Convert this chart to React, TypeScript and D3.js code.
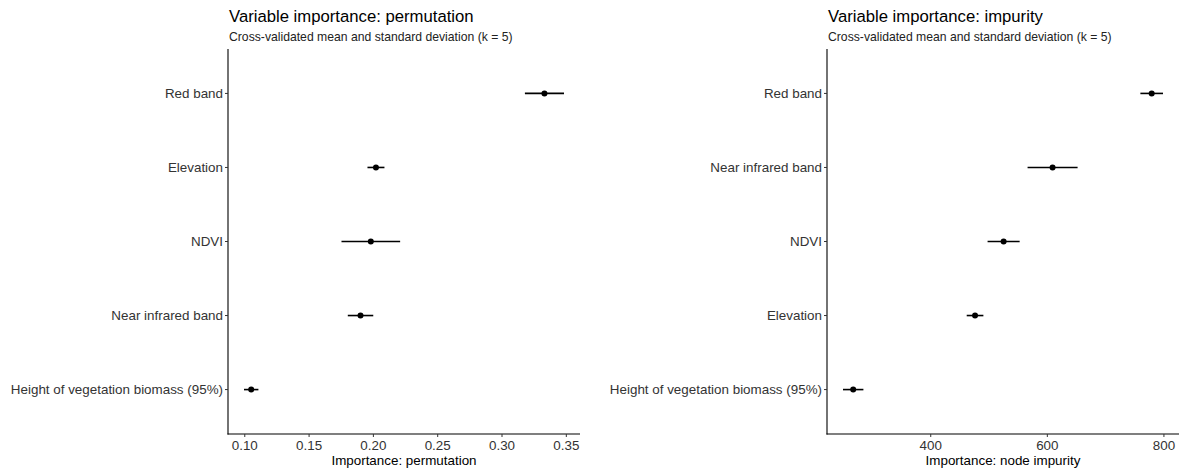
import React from "react";
import * as d3 from "d3";

const permCategories = ["Red band", "Elevation", "NDVI", "Near infrared band", "Height of vegetation biomass (95%)"];
const permMean = [0.333, 0.202, 0.198, 0.190, 0.105];
const permSd = [0.0152, 0.0066, 0.0228, 0.0099, 0.0056];
const permTicks = [0.10, 0.15, 0.20, 0.25, 0.30, 0.35];

const impCategories = ["Red band", "Near infrared band", "NDVI", "Elevation", "Height of vegetation biomass (95%)"];
const impMean = [779, 609, 525, 476, 267];
const impSd = [19.4, 42.9, 27.5, 14.3, 17.5];
const impTicks = [400, 600, 800];

const FONT = "'Liberation Sans', Arial, Helvetica, sans-serif";

type PanelProps = {
  left: number; right: number; top: number; bottom: number;
  title: string; subtitle: string; xTitle: string;
  cats: string[]; mean: number[]; sd: number[]; ticks: number[];
  fmt: (v: number) => string;
};

function Panel(p: PanelProps) {
  const lo = d3.min(p.mean.map((m, i) => m - p.sd[i])) as number;
  const hi = d3.max(p.mean.map((m, i) => m + p.sd[i])) as number;
  const pad = (hi - lo) * 0.05;
  const x = d3.scaleLinear().domain([lo - pad, hi + pad]).range([p.left, p.right]);
  const y = d3.scalePoint<string>().domain(p.cats).range([p.top, p.bottom]).padding(0.6);
  return (
    <g fontFamily={FONT}>
      <text x={p.left + 1} y={22} fontSize={16.7} fill="#000">{p.title}</text>
      <text x={p.left + 1} y={40.5} fontSize={12.2} fill="#222">{p.subtitle}</text>
      <line x1={p.left} x2={p.left} y1={p.top} y2={p.bottom + 0.5} stroke="#000" strokeWidth={1.1} />
      <line x1={p.left - 0.5} x2={p.right} y1={p.bottom} y2={p.bottom} stroke="#000" strokeWidth={1.1} />
      {p.cats.map((c) => (
        <g key={c}>
          <line x1={p.left - 3} x2={p.left} y1={y(c)} y2={y(c)} stroke="#333" strokeWidth={1} />
          <text x={p.left - 5} y={y(c)} dy="0.36em" textAnchor="end" fontSize={13.4} fill="#333">{c}</text>
        </g>
      ))}
      {p.ticks.map((t) => (
        <g key={t}>
          <line x1={x(t)} x2={x(t)} y1={p.bottom} y2={p.bottom + 3} stroke="#333" strokeWidth={1} />
          <text x={x(t)} y={p.bottom + 16} textAnchor="middle" fontSize={13.4} fill="#333">{p.fmt(t)}</text>
        </g>
      ))}
      <text x={(p.left + p.right) / 2} y={p.bottom + 31} textAnchor="middle" fontSize={13.4} fill="#000">{p.xTitle}</text>
      {p.cats.map((c, i) => (
        <g key={"m" + c}>
          <line x1={x(p.mean[i] - p.sd[i])} x2={x(p.mean[i] + p.sd[i])} y1={y(c)} y2={y(c)} stroke="#000" strokeWidth={1.6} />
          <circle cx={x(p.mean[i])} cy={y(c)} r={3} fill="#000" />
        </g>
      ))}
    </g>
  );
}

export default function App() {
  return (
    <svg width={1185} height={473} style={{ position: "absolute", left: 0, top: 0, background: "#fff" }}>
      <rect width={1185} height={473} fill="#fff" />
      <Panel left={228} right={580} top={49} bottom={434}
        title="Variable importance: permutation"
        subtitle="Cross-validated mean and standard deviation (k = 5)"
        xTitle="Importance: permutation"
        cats={permCategories} mean={permMean} sd={permSd} ticks={permTicks}
        fmt={d3.format(".2f")} />
      <Panel left={827} right={1179} top={49} bottom={434}
        title="Variable importance: impurity"
        subtitle="Cross-validated mean and standard deviation (k = 5)"
        xTitle="Importance: node impurity"
        cats={impCategories} mean={impMean} sd={impSd} ticks={impTicks}
        fmt={d3.format("d")} />
    </svg>
  );
}
